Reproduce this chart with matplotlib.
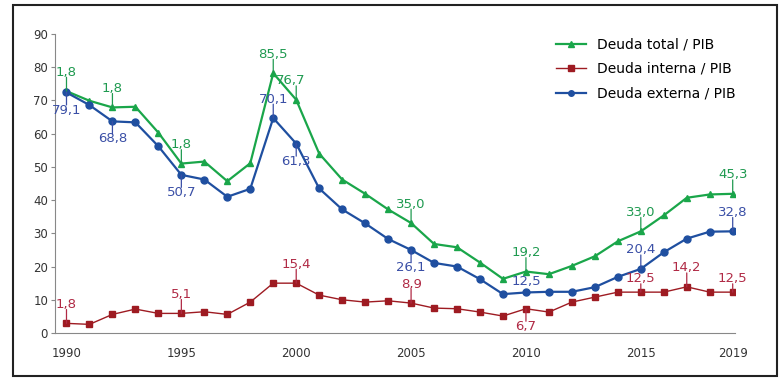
import numpy as np
import matplotlib
matplotlib.use("Agg")
import matplotlib.pyplot as plt
from matplotlib.patches import Rectangle

plt.rcParams['font.family'] = ['Liberation Sans Narrow', 'DejaVu Sans']

years = list(range(1990, 2020))
total = [72.8, 69.9, 67.9, 68.1, 60.3, 51.0, 51.6, 45.7, 51.1, 78.2,
         70.2, 54.0, 46.2, 41.9, 37.2, 33.1, 26.8, 25.8, 21.2, 16.3,
         18.5, 17.7, 20.2, 23.1, 27.6, 30.6, 35.4, 40.7, 41.7, 41.9]
externa = [72.4, 68.6, 63.7, 63.4, 56.2, 47.6, 46.2, 41.0, 43.4, 64.7,
           57.0, 43.5, 37.2, 33.0, 28.3, 25.0, 21.1, 20.0, 16.2, 11.7,
           12.2, 12.4, 12.4, 13.8, 16.9, 19.3, 24.3, 28.4, 30.5, 30.6]
interna = [2.9, 2.6, 5.6, 7.2, 5.9, 5.9, 6.4, 5.6, 9.3, 15.0,
           15.0, 11.4, 10.0, 9.3, 9.7, 9.0, 7.5, 7.3, 6.3, 5.1,
           7.3, 6.3, 9.3, 10.8, 12.3, 12.3, 12.3, 13.9, 12.3, 12.3]

# labels written on the chart: (year, text, above?)
lab_total = [(1990, '1,8', 1), (1992, '1,8', 1), (1995, '1,8', 1), (1999, '85,5', 1),
             (2000, '76,7', 1), (2005, '35,0', 1), (2010, '19,2', 1), (2015, '33,0', 1),
             (2019, '45,3', 1)]
lab_externa = [(1990, '79,1', 0), (1992, '68,8', 0), (1995, '50,7', 0), (1999, '70,1', 1),
               (2000, '61,3', 0), (2005, '26,1', 0), (2010, '12,5', 1), (2015, '20,4', 1),
               (2019, '32,8', 1)]
lab_interna = [(1990, '1,8', 1), (1995, '5,1', 1), (2000, '15,4', 1), (2005, '8,9', 1),
               (2010, '6,7', 0), (2015, '12,5', 1), (2017, '14,2', 1), (2019, '12,5', 1)]

c_total = '#1aa64a'
c_int = '#9e1b22'
c_ext = '#1f4fa0'
t_total = '#1f9a50'
t_int = '#b02a45'
t_ext = '#3a4fa6'

fig = plt.figure(figsize=(7.84, 3.83), dpi=100)
fig.patches.append(Rectangle((13/784, 1-376/383), 764/784, 371/383, transform=fig.transFigure,
                             fill=False, edgecolor='#222222', linewidth=1.5))
ax = fig.add_axes([55/784, 1-333/383, 680/784, 299/383])

ax.plot(years, total, color=c_total, lw=1.6, marker='^', ms=5, label='Deuda total / PIB', zorder=3)
ax.plot(years, interna, color=c_int, lw=1.0, marker='s', ms=5, label='Deuda interna / PIB', zorder=3)
ax.plot(years, externa, color=c_ext, lw=1.6, marker='o', ms=5, label='Deuda externa / PIB', zorder=3)


def put_labels(lst, ys, col):
    for yr, txt, up in lst:
        v = ys[years.index(yr)]
        off = 9 if up else -8
        dx = 0
        noline = False
        if txt == '12,5' and col == t_ext:
            off, noline = 3, True
        if txt == '12,5' and col == t_int:
            off = 5
        if txt == '76,7':
            dx = -4
        ax.annotate(txt, (yr, v), xytext=(dx, off), textcoords='offset points',
                    ha='center', va='bottom' if up else 'top', color=col, fontsize=9.5)
        if not noline:
            ax.annotate('', (yr, v), xytext=(0, off + (1 if up else -1)), textcoords='offset points',
                        arrowprops=dict(arrowstyle='-', color=col, lw=0.9, shrinkA=0, shrinkB=0))


put_labels(lab_total, total, t_total)
put_labels(lab_externa, externa, t_ext)
put_labels(lab_interna, interna, t_int)

ax.set_xlim(1989.5, 2019.1)
ax.set_ylim(0, 90)
ax.set_yticks(range(0, 91, 10))
ax.set_xticks([1990, 1995, 2000, 2005, 2010, 2015, 2019])
ax.tick_params(axis='x', length=0, pad=10, labelsize=8.5, colors='#333333')
ax.tick_params(axis='y', length=3, width=0.8, color='#888888', labelsize=8.5, labelcolor='#333333', pad=2)
for s in ['top', 'right']:
    ax.spines[s].set_visible(False)
ax.spines['left'].set_color('#888888')
ax.spines['bottom'].set_color('#888888')

ax.legend(loc='upper right', bbox_to_anchor=(1.02, 1.03), frameon=False, fontsize=10,
          handlelength=2.2, labelspacing=0.75, markerscale=0.8)

fig.savefig('out.png', dpi=100)
